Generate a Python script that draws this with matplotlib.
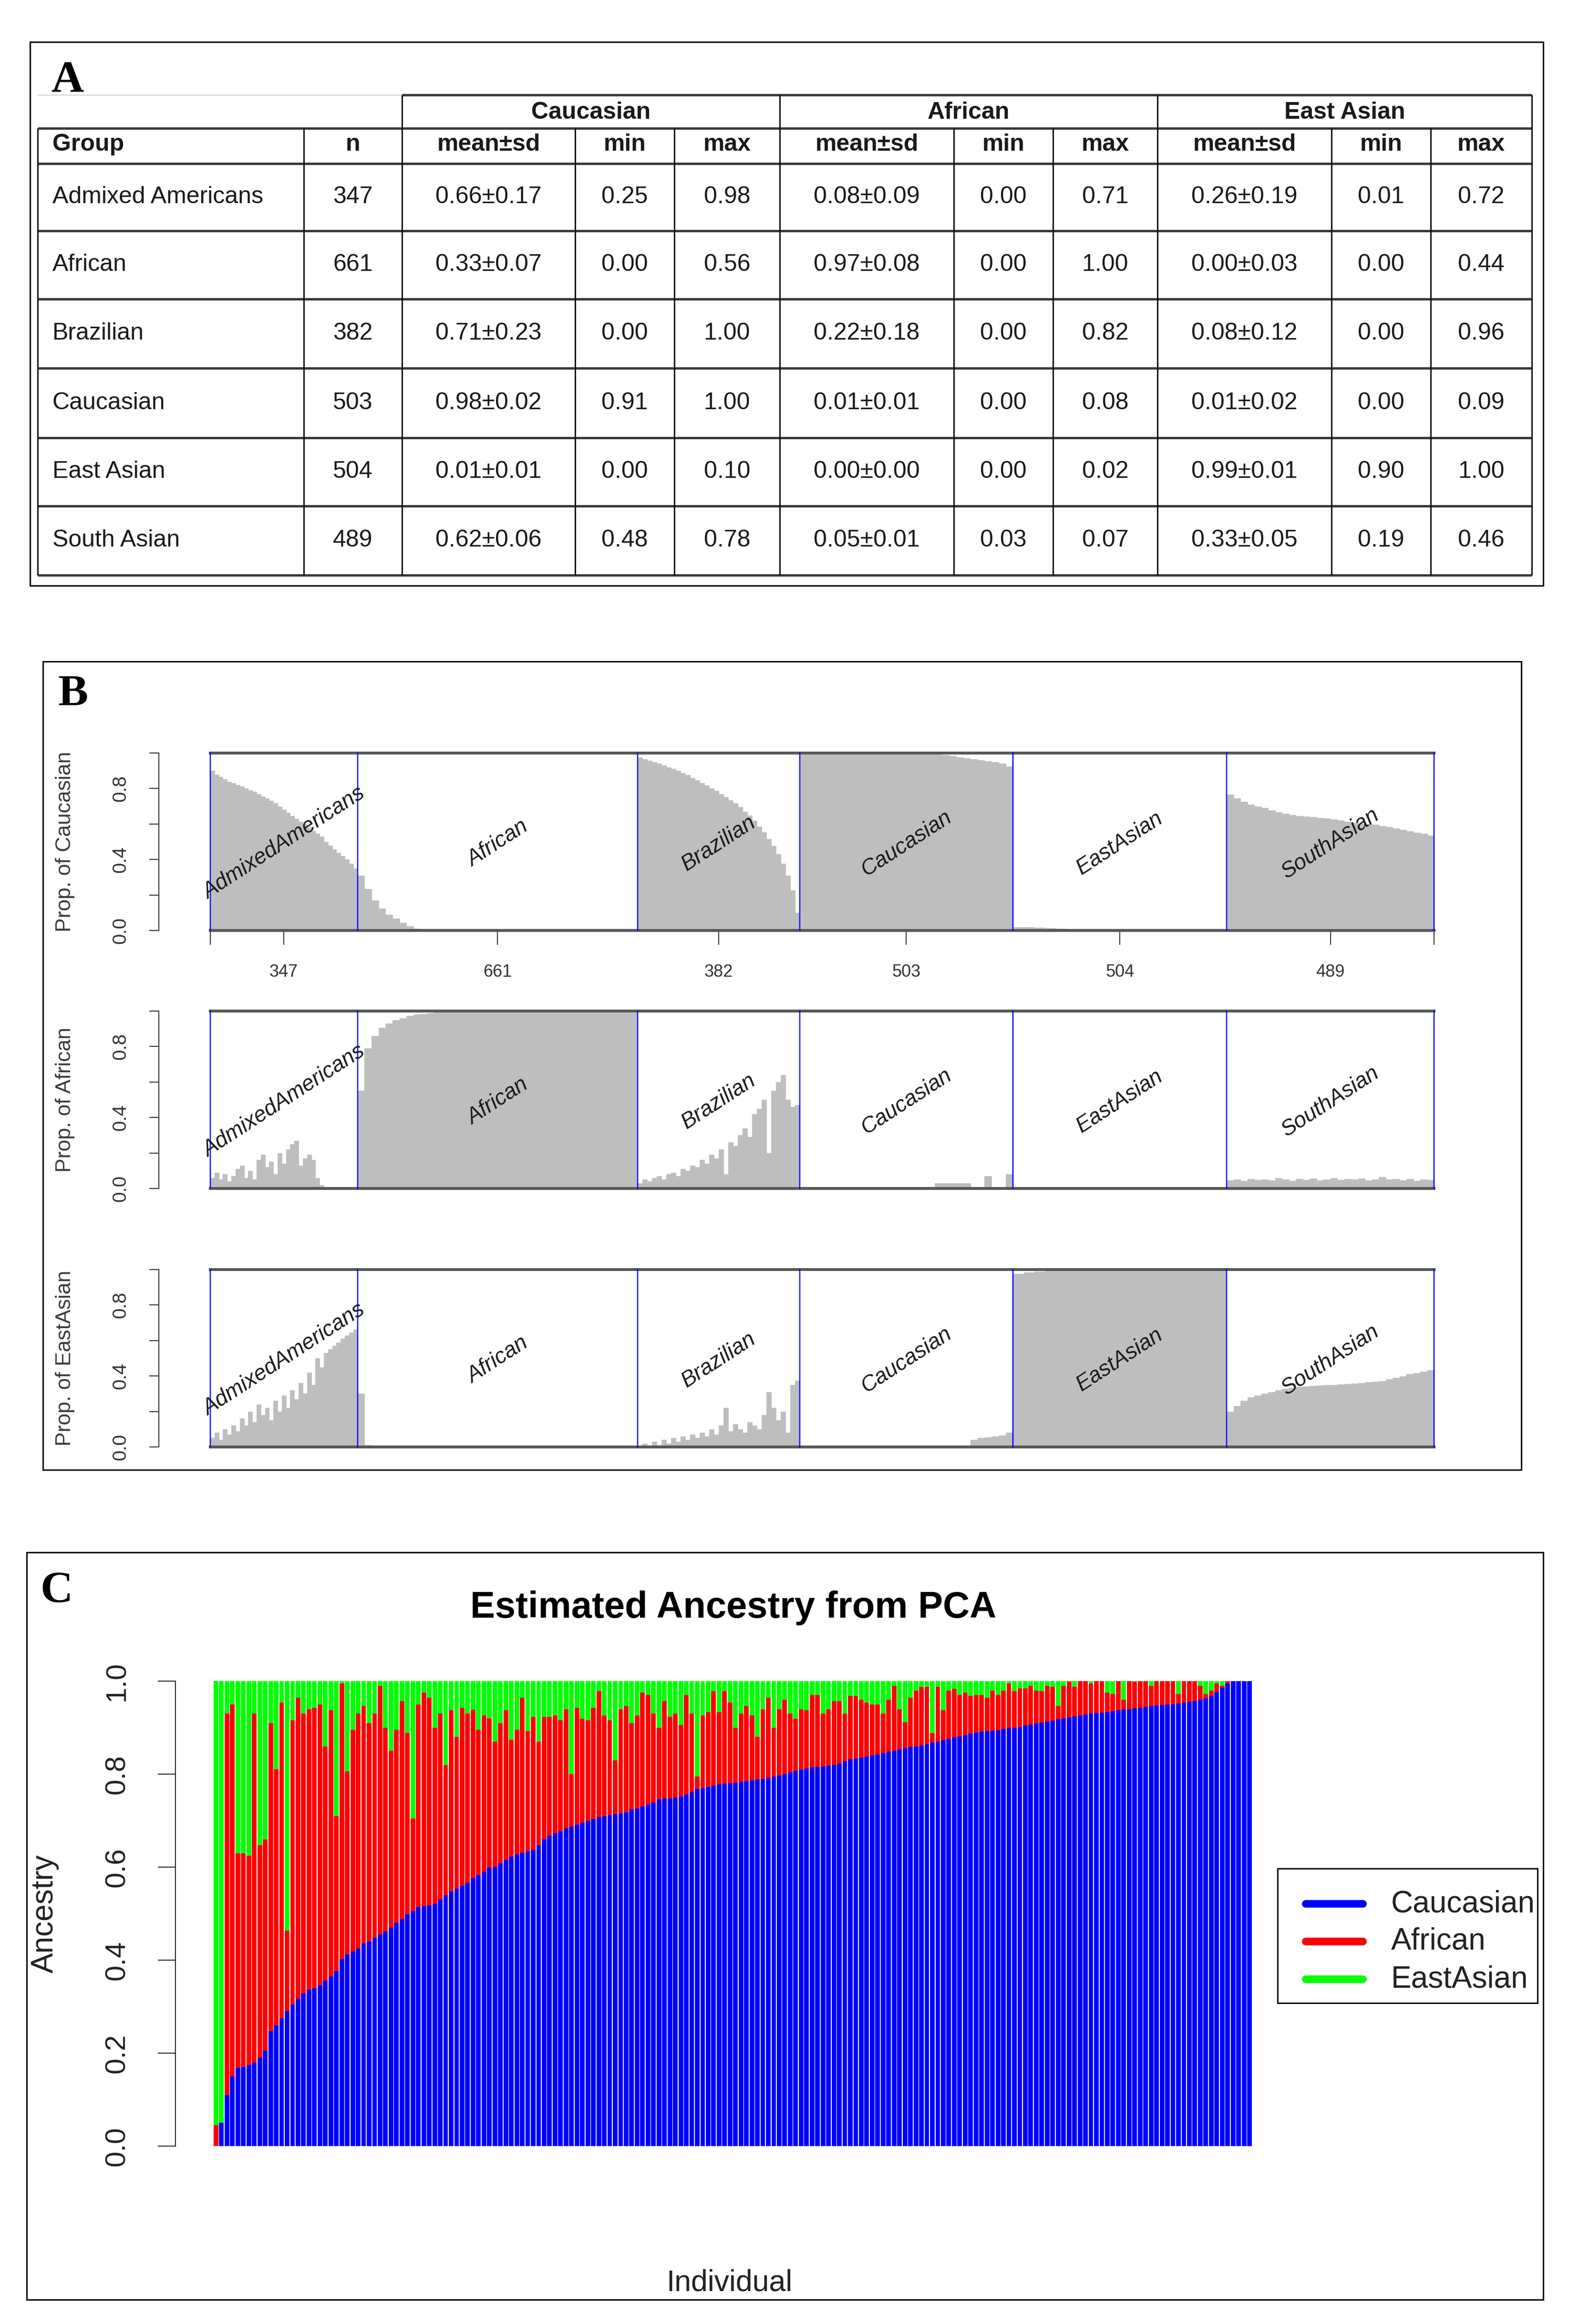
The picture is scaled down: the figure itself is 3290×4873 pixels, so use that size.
import numpy as np
import matplotlib
matplotlib.use("Agg")
import matplotlib.pyplot as plt
from matplotlib.patches import Rectangle

W, H, DPI = 3291, 4873, 100
PT = 72.0 / DPI
plt.rcParams['font.family'] = ['Liberation Sans', 'DejaVu Sans']
SERIF = ['Liberation Serif', 'DejaVu Serif']

# ---------------- Panel A : summary table ----------------
table_groups = ["Admixed Americans", "African", "Brazilian", "Caucasian", "East Asian", "South Asian"]
table_n = [347, 661, 382, 503, 504, 489]
ancestry_headers = ["Caucasian", "African", "East Asian"]
sub_headers = ["mean±sd", "min", "max"]
cau_mean_sd = ["0.66±0.17", "0.33±0.07", "0.71±0.23", "0.98±0.02", "0.01±0.01", "0.62±0.06"]
cau_min = ["0.25", "0.00", "0.00", "0.91", "0.00", "0.48"]
cau_max = ["0.98", "0.56", "1.00", "1.00", "0.10", "0.78"]
afr_mean_sd = ["0.08±0.09", "0.97±0.08", "0.22±0.18", "0.01±0.01", "0.00±0.00", "0.05±0.01"]
afr_min = ["0.00", "0.00", "0.00", "0.00", "0.00", "0.03"]
afr_max = ["0.71", "1.00", "0.82", "0.08", "0.02", "0.07"]
eas_mean_sd = ["0.26±0.19", "0.00±0.03", "0.08±0.12", "0.01±0.02", "0.99±0.01", "0.33±0.05"]
eas_min = ["0.01", "0.00", "0.00", "0.00", "0.90", "0.19"]
eas_max = ["0.72", "0.44", "0.96", "0.09", "1.00", "0.46"]

# ---------------- Panel B : per-group proportions (sampled along each group) ----------------
plot_groups = ["AdmixedAmericans", "African", "Brazilian", "Caucasian", "EastAsian", "SouthAsian"]
group_n = [347, 661, 382, 503, 504, 489]

# Proportion of Caucasian
cau_AA = [0.90, 0.88, 0.865, 0.853, 0.84, 0.83, 0.82, 0.812, 0.80, 0.79, 0.782, 0.77, 0.756, 0.744,
          0.73, 0.718, 0.70, 0.68, 0.663, 0.646, 0.63, 0.614, 0.60, 0.58, 0.563, 0.546, 0.53, 0.50,
          0.478, 0.458, 0.437, 0.42, 0.40, 0.375, 0.35]
cau_AFR = [0.31, 0.235, 0.17, 0.125, 0.09, 0.068, 0.042, 0.025, 0.01, 0.003, 0.0, 0.0, 0.0, 0.0,
           0.0, 0.0, 0.0, 0.0, 0.0, 0.0, 0.0, 0.0, 0.0, 0.0, 0.0, 0.0, 0.0, 0.0, 0.0, 0.0, 0.0, 0.0,
           0.0, 0.0, 0.0, 0.0, 0.0, 0.0, 0.0, 0.0]
cau_BRA = [0.975, 0.965, 0.957, 0.95, 0.94, 0.93, 0.92, 0.912, 0.90, 0.888, 0.875, 0.86, 0.846, 0.83,
           0.817, 0.80, 0.788, 0.77, 0.753, 0.735, 0.717, 0.695, 0.67, 0.647, 0.617, 0.585, 0.553,
           0.517, 0.475, 0.43, 0.375, 0.31, 0.225, 0.10]
cau_CAU = [1.00, 1.00, 1.00, 1.00, 1.00, 1.00, 1.00, 1.00, 1.00, 1.00, 0.998, 0.998, 0.997, 0.997,
           0.996, 0.995, 0.995, 0.994, 0.993, 0.992, 0.99, 0.985, 0.975, 0.97, 0.965, 0.96, 0.955,
           0.948, 0.94, 0.925]
cau_EAS = [0.02, 0.018, 0.016, 0.014, 0.012, 0.006, 0.005, 0.004, 0.003, 0.0, 0.0, 0.0, 0.0, 0.0,
           0.0, 0.0, 0.0, 0.0, 0.0, 0.0]
cau_SAS = [0.765, 0.745, 0.725, 0.71, 0.70, 0.69, 0.678, 0.667, 0.658, 0.65, 0.646, 0.642, 0.639,
           0.635, 0.631, 0.626, 0.62, 0.614, 0.608, 0.603, 0.60, 0.596, 0.59, 0.582, 0.574, 0.566,
           0.558, 0.552, 0.546, 0.535]

# Proportion of African
afr_AA = [0.06, 0.09, 0.05, 0.08, 0.04, 0.07, 0.11, 0.13, 0.06, 0.10, 0.05, 0.16, 0.19, 0.12, 0.15,
          0.08, 0.20, 0.14, 0.22, 0.25, 0.27, 0.13, 0.17, 0.19, 0.16, 0.06, 0.02, 0.0, 0.0, 0.0, 0.0,
          0.0, 0.0, 0.0, 0.0]
afr_AFR = [0.55, 0.79, 0.86, 0.905, 0.93, 0.948, 0.96, 0.972, 0.98, 0.985, 0.99, 0.995, 0.995, 0.995,
           0.995, 1.0, 1.0, 1.0, 1.0, 1.0, 1.0, 1.0, 1.0, 1.0, 1.0, 1.0, 1.0, 1.0, 1.0, 1.0, 1.0, 1.0,
           1.0, 1.0, 1.0, 1.0, 1.0, 1.0, 1.0, 1.0]
afr_BRA = [0.03, 0.05, 0.04, 0.06, 0.07, 0.05, 0.08, 0.09, 0.07, 0.11, 0.10, 0.13, 0.12, 0.16, 0.14,
           0.19, 0.17, 0.22, 0.08, 0.26, 0.24, 0.30, 0.34, 0.29, 0.42, 0.45, 0.50, 0.20, 0.55, 0.60,
           0.64, 0.50, 0.46, 0.47]
afr_CAU = [0.0, 0.0, 0.0, 0.0, 0.0, 0.0, 0.0, 0.0, 0.0, 0.0, 0.0, 0.0, 0.0, 0.0, 0.008, 0.008, 0.008,
           0.008, 0.008, 0.03, 0.03, 0.03, 0.03, 0.03, 0.0, 0.0, 0.07, 0.0, 0.0, 0.08]
afr_EAS = [0.005, 0.003, 0.006, 0.002, 0.004, 0.008, 0.003, 0.002, 0.005, 0.003, 0.006, 0.002, 0.004,
           0.007, 0.003, 0.002, 0.001, 0.0, 0.0, 0.0]
afr_SAS = [0.045, 0.05, 0.042, 0.055, 0.048, 0.052, 0.046, 0.058, 0.05, 0.044, 0.053, 0.049, 0.056,
           0.047, 0.051, 0.06, 0.048, 0.054, 0.05, 0.057, 0.045, 0.052, 0.065, 0.05, 0.055, 0.047,
           0.053, 0.044, 0.05, 0.048]

# Proportion of EastAsian
eas_AA = [0.05, 0.08, 0.04, 0.10, 0.07, 0.12, 0.09, 0.16, 0.12, 0.20, 0.14, 0.24, 0.18, 0.22, 0.15,
          0.26, 0.20, 0.29, 0.22, 0.32, 0.27, 0.36, 0.30, 0.42, 0.35, 0.50, 0.45, 0.53, 0.55, 0.57,
          0.59, 0.61, 0.63, 0.645, 0.66]
eas_AFR = [0.30, 0.01, 0.004, 0.006, 0.003, 0.005, 0.004, 0.006, 0.003, 0.005, 0.004, 0.003, 0.005,
           0.004, 0.006, 0.003, 0.004, 0.005, 0.003, 0.004, 0.006, 0.003, 0.005, 0.004, 0.003, 0.005,
           0.004, 0.006, 0.003, 0.004, 0.005, 0.003, 0.004, 0.005, 0.003, 0.004, 0.006, 0.004, 0.003,
           0.005]
eas_BRA = [0.0, 0.02, 0.0, 0.03, 0.01, 0.04, 0.02, 0.05, 0.03, 0.06, 0.04, 0.07, 0.05, 0.08, 0.06,
           0.10, 0.07, 0.12, 0.22, 0.09, 0.13, 0.10, 0.08, 0.14, 0.12, 0.10, 0.18, 0.31, 0.22, 0.15,
           0.20, 0.08, 0.35, 0.375]
eas_CAU = [0.0, 0.0, 0.0, 0.0, 0.0, 0.0, 0.0, 0.0, 0.0, 0.0, 0.0, 0.0, 0.005, 0.0, 0.0, 0.0, 0.0, 0.0,
           0.0, 0.0, 0.0, 0.0, 0.0, 0.0, 0.04, 0.05, 0.055, 0.06, 0.065, 0.08]
eas_EAS = [0.975, 0.985, 0.99, 0.995, 0.997, 0.998, 0.999, 1.0, 1.0, 1.0, 1.0, 1.0, 1.0, 1.0, 1.0,
           1.0, 1.0, 1.0, 1.0, 1.0]
eas_SAS = [0.20, 0.23, 0.26, 0.28, 0.29, 0.30, 0.31, 0.32, 0.327, 0.333, 0.338, 0.342, 0.345, 0.348,
           0.35, 0.35, 0.352, 0.354, 0.357, 0.36, 0.365, 0.368, 0.372, 0.382, 0.39, 0.398, 0.41,
           0.418, 0.425, 0.432]

row_labels = ["Prop. of Caucasian", "Prop. of African", "Prop. of EastAsian"]
row_values = [[cau_AA, cau_AFR, cau_BRA, cau_CAU, cau_EAS, cau_SAS],
              [afr_AA, afr_AFR, afr_BRA, afr_CAU, afr_EAS, afr_SAS],
              [eas_AA, eas_AFR, eas_BRA, eas_CAU, eas_EAS, eas_SAS]]

# ---------------- Panel C : estimated ancestry per individual ----------------
pca_caucasian = [
    0.0, 0.05, 0.11, 0.15, 0.168, 0.17, 0.174, 0.18, 0.19, 0.205, 0.247, 0.26, 0.275, 0.29, 0.305,
    0.317, 0.328, 0.336, 0.34, 0.346, 0.356, 0.365, 0.376, 0.402, 0.412, 0.418, 0.425, 0.436, 0.44,
    0.448, 0.455, 0.462, 0.47, 0.48, 0.488, 0.498, 0.506, 0.514, 0.516, 0.518, 0.521, 0.53, 0.54,
    0.548, 0.554, 0.56, 0.566, 0.576, 0.583, 0.59, 0.599, 0.60, 0.608, 0.615, 0.623, 0.628, 0.631,
    0.634, 0.638, 0.647, 0.66, 0.668, 0.673, 0.677, 0.683, 0.687, 0.691, 0.695, 0.70, 0.704, 0.708,
    0.71, 0.712, 0.714, 0.716, 0.718, 0.724, 0.726, 0.73, 0.734, 0.74, 0.746, 0.748, 0.748, 0.75,
    0.752, 0.756, 0.762, 0.768, 0.77, 0.772, 0.775, 0.778, 0.78, 0.781, 0.782, 0.784, 0.785, 0.787,
    0.789, 0.79, 0.792, 0.795, 0.797, 0.80, 0.804, 0.807, 0.809, 0.812, 0.814, 0.815, 0.816, 0.818,
    0.82, 0.823, 0.828, 0.832, 0.834, 0.836, 0.838, 0.84, 0.842, 0.845, 0.848, 0.85, 0.853, 0.855,
    0.858, 0.86, 0.862, 0.865, 0.868, 0.87, 0.873, 0.876, 0.879, 0.881, 0.884, 0.887, 0.889, 0.891,
    0.892, 0.893, 0.894, 0.897, 0.899, 0.90, 0.902, 0.905, 0.907, 0.909, 0.911, 0.913, 0.915, 0.918,
    0.92, 0.922, 0.924, 0.926, 0.928, 0.93, 0.931, 0.932, 0.933, 0.935, 0.937, 0.939, 0.94, 0.942,
    0.943, 0.945, 0.947, 0.948, 0.949, 0.95, 0.951, 0.952, 0.954, 0.956, 0.957, 0.96, 0.963, 0.968,
    0.976, 0.986, 0.995, 1.0, 1.0, 1.0, 1.0]
pca_african = [
    0.045, 0.0, 0.82, 0.80, 0.462, 0.46, 0.451, 0.75, 0.457, 0.455, 0.663, 0.55, 0.679, 0.174, 0.611,
    0.647, 0.602, 0.604, 0.603, 0.604, 0.504, 0.572, 0.334, 0.593, 0.394, 0.477, 0.505, 0.511, 0.47,
    0.482, 0.535, 0.438, 0.38, 0.415, 0.469, 0.39, 0.199, 0.436, 0.459, 0.446, 0.379, 0.40, 0.28,
    0.389, 0.326, 0.383, 0.364, 0.362, 0.312, 0.336, 0.321, 0.27, 0.302, 0.322, 0.251, 0.267, 0.333,
    0.258, 0.285, 0.223, 0.263, 0.255, 0.253, 0.239, 0.257, 0.113, 0.252, 0.224, 0.216, 0.239, 0.27,
    0.216, 0.204, 0.116, 0.224, 0.229, 0.186, 0.20, 0.245, 0.236, 0.19, 0.154, 0.209, 0.175, 0.18,
    0.154, 0.214, 0.168, 0.027, 0.156, 0.161, 0.203, 0.155, 0.198, 0.173, 0.118, 0.146, 0.162, 0.139,
    0.091, 0.15, 0.172, 0.105, 0.143, 0.16, 0.126, 0.112, 0.131, 0.125, 0.156, 0.155, 0.114, 0.122,
    0.137, 0.134, 0.102, 0.136, 0.134, 0.124, 0.116, 0.11, 0.108, 0.085, 0.112, 0.14, 0.087, 0.057,
    0.106, 0.12, 0.126, 0.123, 0.02, 0.118, 0.064, 0.104, 0.105, 0.089, 0.091, 0.081, 0.081, 0.079,
    0.072, 0.087, 0.076, 0.083, 0.096, 0.078, 0.083, 0.08, 0.083, 0.071, 0.067, 0.077, 0.073, 0.029,
    0.07, 0.077, 0.064, 0.074, 0.072, 0.065, 0.069, 0.068, 0.042, 0.037, 0.063, 0.021, 0.06, 0.057,
    0.057, 0.055, 0.043, 0.052, 0.051, 0.05, 0.049, 0.02, 0.046, 0.044, 0.043, 0.03, 0.009, 0.012,
    0.019, 0.004, 0.005, 0.0, 0.0, 0.0, 0.0]
pca_legend = ["Caucasian", "African", "EastAsian"]
pca_colors = ["#0000FF", "#FF0000", "#00FF00"]

# ======================================================================
fig = plt.figure(figsize=(W / DPI, H / DPI), dpi=DPI)
fig.patch.set_facecolor("white")
ov = fig.add_axes([0, 0, 1, 1])
ov.set_xlim(0, W)
ov.set_ylim(H, 0)
ov.axis("off")


def rect_px(x0, y0, x1, y1):
    return [x0 / W, 1 - y1 / H, (x1 - x0) / W, (y1 - y0) / H]


def seg(x0, y0, x1, y1, lw, color, z=3):
    ov.plot([x0, x1], [y0, y1], color=color, lw=lw * PT, solid_capstyle="butt", zorder=z)


def frame(x0, y0, x1, y1, lw=3):
    ov.add_patch(Rectangle((x0, y0), x1 - x0, y1 - y0, fill=False, lw=lw * PT, ec="black", zorder=4))


# panel frames and letters
frame(63, 88, 3236, 1228)
frame(90, 1387, 3190, 3082)
frame(56, 3255, 3236, 4822)
for lab, (lx, ly) in zip("ABC", [(141, 170), (153, 1456), (119, 3337)]):
    ov.text(lx, ly, lab, family=SERIF, fontweight="bold", fontsize=68, ha="center", va="center")

# ---------------- Panel A ----------------
colx = [79, 637, 843, 1206, 1414, 1635, 2000, 2208, 2427, 2792, 3000, 3212]
rowy = [269, 343, 484, 627, 772, 918, 1061, 1206]
top_y = 199
TXT = "#1a1a1a"
FS_T = 36
seg(colx[0], top_y, colx[2], top_y, 3, "#dddddd")
seg(colx[2], top_y, colx[-1], top_y, 5, "#3a3a3a")
for y in rowy:
    seg(colx[0], y, colx[-1], y, 5, "#3a3a3a")
for x in colx:
    seg(x, rowy[0], x, rowy[-1], 3, "#111111")
for x in [colx[2], colx[5], colx[8], colx[11]]:
    seg(x, top_y, x, rowy[0], 3, "#111111")

for k, hdr in enumerate(ancestry_headers):
    xc = (colx[2 + 3 * k] + colx[5 + 3 * k]) / 2
    ov.text(xc, (top_y + rowy[0]) / 2 + 2, hdr, fontsize=FS_T, fontweight="bold", ha="center",
            va="center", color=TXT)
yh = (rowy[0] + rowy[1]) / 2 - 3
ov.text(110, yh, "Group", fontsize=FS_T, fontweight="bold", ha="left", va="center", color=TXT)
ov.text((colx[1] + colx[2]) / 2, yh, "n", fontsize=FS_T, fontweight="bold", ha="center", va="center", color=TXT)
for k in range(3):
    for j, sh in enumerate(sub_headers):
        c = 2 + 3 * k + j
        ov.text((colx[c] + colx[c + 1]) / 2, yh, sh, fontsize=FS_T, fontweight="bold", ha="center",
                va="center", color=TXT)

cols_data = [cau_mean_sd, cau_min, cau_max, afr_mean_sd, afr_min, afr_max, eas_mean_sd, eas_min, eas_max]
for r in range(len(table_groups)):
    yc = (rowy[r + 1] + rowy[r + 2]) / 2
    ov.text(110, yc, table_groups[r], fontsize=FS_T, ha="left", va="center", color=TXT)
    ov.text((colx[1] + colx[2]) / 2, yc, str(table_n[r]), fontsize=FS_T, ha="center", va="center", color=TXT)
    for c, col in enumerate(cols_data):
        ov.text((colx[2 + c] + colx[3 + c]) / 2, yc, col[r], fontsize=FS_T, ha="center", va="center", color=TXT)

# ---------------- Panel B ----------------
BX0, BX1 = 441, 3007
row_tops = [1579, 2120, 2662]
ROW_H = 372
total_n = sum(group_n)
starts = np.concatenate([[0], np.cumsum(group_n)[:-1]])
bounds = list(starts) + [total_n]
mids = [s + n / 2 for s, n in zip(starts, group_n)]
GRAY_TXT = "#333333"

for r in range(3):
    top = row_tops[r]
    ax = fig.add_axes(rect_px(BX0, top, BX1, top + ROW_H))
    ax.set_facecolor("none")
    ax.set_xlim(0, total_n)
    ax.set_ylim(0, 1)
    for s, n, vals in zip(starts, group_n, row_values[r]):
        w = n / len(vals)
        xs = s + np.arange(len(vals)) * w
        ax.bar(xs, vals, width=w, align="edge", color="#BEBEBE", edgecolor="#BEBEBE", linewidth=0.6, zorder=2)
    ax.axhline(1.0, color="#585858", lw=6 * PT, zorder=5, clip_on=False)
    ax.axhline(0.0, color="#585858", lw=6 * PT, zorder=5, clip_on=False)
    for b in bounds:
        ax.axvline(b, color="#0000FF", lw=2.5 * PT, zorder=6, clip_on=False)
    for m, lab in zip(mids, plot_groups):
        ax.text(m, 0.49, lab, rotation=33, ha="center", va="center", fontsize=33, style="italic",
                color="#1a1a1a", zorder=7)
    for sp in ["top", "right", "bottom"]:
        ax.spines[sp].set_visible(False)
    ax.spines["left"].set_position(("outward", 108 * PT))
    ax.spines["left"].set_color(GRAY_TXT)
    ax.spines["left"].set_linewidth(2 * PT)
    ax.set_yticks([0, 0.2, 0.4, 0.6, 0.8, 1.0])
    ax.set_yticklabels(["0.0", "", "0.4", "", "0.8", ""])
    ax.tick_params(axis="y", length=20 * PT, width=2 * PT, pad=61 * PT, labelsize=29,
                   labelcolor=GRAY_TXT, color=GRAY_TXT)
    for lab in ax.get_yticklabels():
        lab.set_rotation(90)
        lab.set_ha("center")
        lab.set_va("center")
    if r == 0:
        ax.set_xticks([0] + mids + [total_n])
        ax.set_xticklabels([""] + [str(n) for n in group_n] + [""])
        ax.tick_params(axis="x", length=30 * PT, width=2 * PT, pad=40 * PT, labelsize=26,
                       labelcolor=GRAY_TXT, color=GRAY_TXT)
    else:
        ax.set_xticks([])
    ov.text(137, top + ROW_H / 2, row_labels[r], rotation=90, ha="center", va="center", fontsize=32,
            color="#3a3a3a")

# ---------------- Panel C ----------------
cau = np.array(pca_caucasian)
afr = np.array(pca_african)
eas = np.clip(1.0 - cau - afr, 0, None)
N = len(cau)
CY1, CY0 = 3525, 4500
axc = fig.add_axes(rect_px(448, CY1, 2625, CY0))
axc.set_facecolor("none")
xi = np.arange(N)
BW = 0.86
axc.bar(xi, cau, width=BW, align="edge", color=pca_colors[0], linewidth=0)
axc.bar(xi, afr, width=BW, bottom=cau, align="edge", color=pca_colors[1], linewidth=0)
axc.bar(xi, eas, width=BW, bottom=cau + afr, align="edge", color=pca_colors[2], linewidth=0)
axc.set_xlim(0, N - (1 - BW))
axc.set_ylim(0, 1)
for sp in ["top", "right", "bottom"]:
    axc.spines[sp].set_visible(False)
axc.spines["left"].set_position(("outward", 80 * PT))
axc.spines["left"].set_linewidth(2 * PT)
axc.spines["left"].set_color("#222222")
axc.set_xticks([])
axc.set_yticks([0, 0.2, 0.4, 0.6, 0.8, 1.0])
axc.set_yticklabels(["0.0", "0.2", "0.4", "0.6", "0.8", "1.0"])
axc.tick_params(axis="y", length=37 * PT, width=2 * PT, pad=85 * PT, labelsize=43, labelcolor="#222222",
                color="#222222")
for lab in axc.get_yticklabels():
    lab.set_rotation(90)
    lab.set_ha("center")
    lab.set_va("center")

ov.text(1538, 3372, "Estimated Ancestry from PCA", fontsize=56, fontweight="bold", ha="center", va="center")
ov.text(94, (CY0 + CY1) / 2, "Ancestry", rotation=90, fontsize=46, ha="center", va="center", color="#222222")
ov.text(1529, 4787, "Individual", fontsize=45, ha="center", va="center", color="#222222")

# legend
ov.add_patch(Rectangle((2679, 3918), 3224 - 2679, 4200 - 3918, fill=False, lw=3 * PT, ec="black", zorder=4))
for k, (lab, col) in enumerate(zip(pca_legend, pca_colors)):
    yy = 3992 + k * 79
    ov.plot([2738, 2858], [yy, yy], color=col, lw=16 * PT, solid_capstyle="round", zorder=5)
    ov.text(2917, yy, lab, fontsize=46, ha="left", va="center", color="#222222", zorder=5)

fig.savefig("out.png", dpi=DPI, facecolor="white")
